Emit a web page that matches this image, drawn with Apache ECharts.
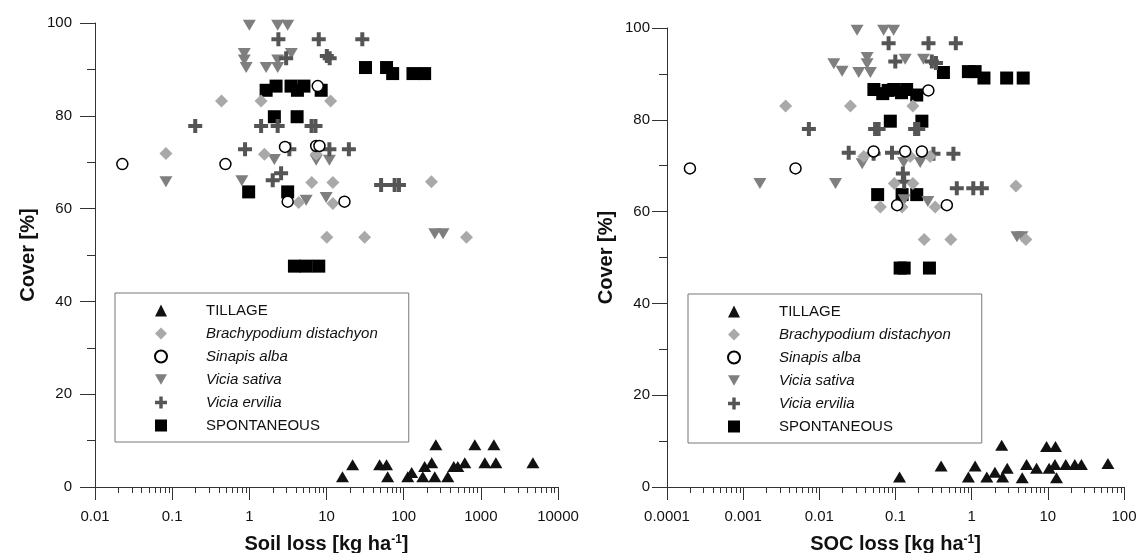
<!DOCTYPE html>
<html>
<head>
<meta charset="utf-8">
<title>Cover vs soil loss and SOC loss</title>
<script src="https://cdn.jsdelivr.net/npm/echarts@6/dist/echarts.min.js"></script>
<style>
  html, body { margin: 0; padding: 0; background: #fff; }
  #chart { width: 1142px; height: 553px; }
</style>
</head>
<body>
<div id="chart"></div>
<script>
// axis ticks
const coverTicks = [0, 20, 40, 60, 80, 100];
const soilTicks = [0.01, 0.1, 1, 10, 100, 1000, 10000];
const socTicks = [0.0001, 0.001, 0.01, 0.1, 1, 10, 100];

// legend order
const seriesNames = ['TILLAGE', 'Brachypodium distachyon', 'Sinapis alba', 'Vicia sativa', 'Vicia ervilia', 'SPONTANEOUS'];

// left panel: [soil loss, cover]
const soilTillage = [[16.1, 2.2], [21.8, 4.8], [48.8, 4.8], [60, 4.8], [62, 2.2], [113, 2.2], [127, 3.1], [177, 2.2], [187, 4.4], [231, 5.2], [253, 2.2], [261, 9.1], [373, 2.2], [446, 4.4], [503, 4.4], [620, 5.2], [836, 9.1], [1127, 5.2], [1476, 9.1], [1567, 5.2], [4732, 5.2]];
const soilBrachy = [[0.083, 71.9], [0.436, 83.2], [1.42, 83.2], [11.3, 83.2], [1.57, 71.7], [7.35, 71.7], [6.44, 65.6], [12.1, 65.6], [4.36, 61.3], [12.1, 61.1], [10.1, 53.8], [31.2, 53.8], [229, 65.8], [652, 53.8]];
const soilSinapis = [[0.0226, 69.6], [0.49, 69.6], [2.9, 73.3], [7.35, 73.5], [8.1, 73.5], [7.7, 86.4], [3.14, 61.5], [17.1, 61.5]];
const soilSativa = [[1.0, 99.5], [2.33, 99.5], [3.14, 99.5], [0.86, 93.4], [0.86, 92.0], [0.91, 90.4], [1.65, 90.4], [2.33, 92.0], [2.33, 90.4], [3.5, 93.4], [0.083, 65.8], [0.8, 66.0], [2.11, 70.6], [7.35, 70.4], [10.9, 70.4], [5.45, 61.8], [9.9, 62.4], [253, 54.6], [324, 54.6]];
const soilErvilia = [[2.38, 96.5], [7.94, 96.5], [29.1, 96.5], [3.0, 92.4], [10.1, 92.9], [11, 92.4], [0.199, 77.8], [1.42, 77.8], [2.33, 77.8], [6.4, 77.8], [7.2, 77.8], [0.88, 72.8], [3.3, 72.8], [10.9, 72.8], [19.5, 72.8], [2.01, 66.1], [2.58, 67.6], [51, 65.1], [76.4, 65.1], [86.9, 65.1]];
const soilSpont = [[1.65, 85.5], [2.22, 86.4], [3.47, 86.4], [4.2, 85.5], [5.1, 86.4], [8.53, 85.5], [2.11, 79.8], [4.16, 79.8], [32, 90.4], [60, 90.4], [72, 89.1], [132, 89.1], [187, 89.1], [0.98, 63.6], [3.14, 63.6], [3.84, 47.6], [5.45, 47.6], [7.94, 47.6]];

// right panel: [SOC loss, cover]
const socTillage = [[0.113, 2.2], [0.397, 4.6], [0.906, 2.2], [1.11, 4.6], [1.58, 2.2], [2.02, 3.2], [2.48, 9.1], [2.55, 2.2], [2.93, 4.1], [4.61, 2.0], [5.26, 4.9], [7.11, 4.1], [9.62, 8.8], [12.6, 8.8], [10.4, 4.1], [12.4, 4.9], [13.0, 2.0], [17.2, 4.9], [22.6, 4.9], [27.6, 4.9], [61.5, 5.1]];
const socBrachy = [[0.00361, 83.0], [0.0256, 83.0], [0.169, 83.0], [0.0383, 72.0], [0.156, 72.0], [0.285, 72.0], [0.0964, 66.1], [0.169, 66.1], [0.0633, 61.0], [0.122, 61.0], [0.332, 61.0], [0.238, 53.9], [0.532, 53.9], [3.81, 65.6], [5.15, 53.9]];
const socSinapis = [[0.0002, 69.4], [0.00487, 69.4], [0.0516, 73.1], [0.134, 73.1], [0.222, 73.1], [0.105, 61.4], [0.472, 61.4], [0.27, 86.4]];
const socSativa = [[0.0313, 99.5], [0.0698, 99.5], [0.0944, 99.5], [0.0424, 93.6], [0.0424, 92.2], [0.0329, 90.3], [0.0468, 90.3], [0.0155, 92.2], [0.0199, 90.6], [0.134, 93.2], [0.233, 93.2], [0.0365, 70.4], [0.128, 70.7], [0.211, 70.7], [0.00166, 66.1], [0.0163, 66.1], [0.13, 62.6], [0.266, 62.2], [3.93, 54.5], [4.57, 54.5]];
const socErvilia = [[0.0812, 96.7], [0.271, 96.7], [0.619, 96.7], [0.0994, 92.7], [0.3, 92.7], [0.34, 92.4], [0.00729, 78.0], [0.054, 78.0], [0.06, 78.0], [0.181, 78.0], [0.199, 78.0], [0.0243, 72.8], [0.0516, 72.6], [0.09, 72.8], [0.315, 72.6], [0.576, 72.6], [0.125, 68.3], [0.13, 66.5], [0.638, 65.1], [1.05, 65.1], [1.36, 65.1]];
const socSpont = [[0.426, 90.3], [0.906, 90.5], [1.11, 90.5], [1.45, 89.1], [2.88, 89.1], [4.75, 89.1], [0.052, 86.6], [0.068, 85.7], [0.08, 86.4], [0.095, 86.6], [0.12, 85.9], [0.14, 86.6], [0.19, 85.4], [0.0855, 79.7], [0.222, 79.7], [0.0583, 63.7], [0.122, 63.7], [0.19, 63.7], [0.115, 47.7], [0.13, 47.7], [0.279, 47.7]];

const FONT = 'Liberation Sans, Arial, Helvetica, sans-serif';
const AXIS = '#333';

// marker look for each treatment
const markers = {
  'TILLAGE': { symbol: 'triangle', symbolSize: [13, 11], itemStyle: { color: '#111' } },
  'Brachypodium distachyon': { symbol: 'diamond', symbolSize: 13, itemStyle: { color: '#a9a9a9' } },
  'Sinapis alba': { symbol: 'circle', symbolSize: 11, itemStyle: { color: '#fff', borderColor: '#000', borderWidth: 1.5 } },
  'Vicia sativa': { symbol: 'path://M0,0L14,0L7,12Z', symbolSize: [13, 11], itemStyle: { color: '#7f7f7f' } },
  'Vicia ervilia': { symbol: 'path://M5,0H9V5H14V9H9V14H5V9H0V5H5Z', symbolSize: 14, itemStyle: { color: '#555' } },
  'SPONTANEOUS': { symbol: 'rect', symbolSize: 13, itemStyle: { color: '#000' } }
};

function scatter(name, data, idx) {
  const s = Object.assign({
    type: 'scatter', name: name, data: data,
    xAxisIndex: idx, yAxisIndex: idx,
    emphasis: { disabled: true }, animation: false
  }, markers[name]);
  s.itemStyle = Object.assign({ opacity: 1 }, markers[name].itemStyle);
  return s;
}

// log axis minor ticks (2..9 per decade), drawn through the axis scale
function minorTicks(ticks, idx) {
  const vals = [];
  for (let i = 0; i < ticks.length - 1; i++) {
    for (let m = 2; m <= 9; m++) vals.push([ticks[i] * m, 0]);
  }
  return {
    type: 'custom', name: 'minor', xAxisIndex: idx, yAxisIndex: idx,
    data: vals, silent: true, clip: false, animation: false,
    renderItem: function (params, api) {
      const p = api.coord([api.value(0), 0]);
      const x = Math.round(p[0]) + 0.5;
      return { type: 'line', shape: { x1: x, y1: p[1], x2: x, y2: p[1] + 6 }, style: { stroke: AXIS, lineWidth: 1 } };
    }
  };
}

const fmtLog = v => String(parseFloat(Number(v).toPrecision(6)));

function xAxis(idx, ticks, title) {
  return {
    type: 'log', logBase: 10, gridIndex: idx,
    min: ticks[0], max: ticks[ticks.length - 1],
    axisLine: { show: true, onZero: false, lineStyle: { color: AXIS, width: 1 } },
    axisTick: { show: true, length: 13, lineStyle: { color: AXIS } },
    minorTick: { show: false }, splitLine: { show: false }, minorSplitLine: { show: false },
    axisLabel: { fontSize: 15, color: '#111', margin: 22, fontFamily: FONT, formatter: fmtLog },
    name: title + ' [kg ha{sup|-1}]', nameLocation: 'middle', nameGap: 47,
    nameTextStyle: {
      fontSize: 20, fontWeight: 'bold', color: '#111', fontFamily: FONT,
      rich: { sup: { fontSize: 12, fontWeight: 'bold', color: '#111', fontFamily: FONT, verticalAlign: 'top' } }
    }
  };
}

function yAxis(idx, labelMargin, gap) {
  return {
    type: 'value', gridIndex: idx,
    min: coverTicks[0], max: coverTicks[coverTicks.length - 1], interval: coverTicks[1] - coverTicks[0],
    axisLine: { show: true, onZero: false, lineStyle: { color: AXIS, width: 1 } },
    axisTick: { show: true, length: 15, lineStyle: { color: AXIS } },
    minorTick: { show: true, splitNumber: 2, length: 8, lineStyle: { color: AXIS } },
    splitLine: { show: false },
    axisLabel: { fontSize: 15, color: '#111', margin: labelMargin, fontFamily: FONT },
    name: 'Cover [%]', nameLocation: 'middle', nameGap: gap,
    nameTextStyle: { fontSize: 20, fontWeight: 'bold', color: '#111', fontFamily: FONT }
  };
}

function legend(left, top) {
  return {
    orient: 'vertical', left: left, top: top,
    itemWidth: 12, itemHeight: 12, itemGap: 8,
    padding: [10, 31, 9, 39],
    borderColor: '#777', borderWidth: 1,
    selectedMode: false,
    textStyle: { fontSize: 15, color: '#111', fontFamily: FONT, padding: [0, 0, 0, 34] },
    data: seriesNames.map(n => ({
      name: n,
      textStyle: { fontStyle: (n === n.toUpperCase()) ? 'normal' : 'italic' }
    }))
  };
}

const drawOrder = ['SPONTANEOUS', 'Vicia sativa', 'Vicia ervilia', 'TILLAGE', 'Brachypodium distachyon', 'Sinapis alba'];
const soilData = {
  'TILLAGE': soilTillage, 'Brachypodium distachyon': soilBrachy, 'Sinapis alba': soilSinapis,
  'Vicia sativa': soilSativa, 'Vicia ervilia': soilErvilia, 'SPONTANEOUS': soilSpont
};
const socData = {
  'TILLAGE': socTillage, 'Brachypodium distachyon': socBrachy, 'Sinapis alba': socSinapis,
  'Vicia sativa': socSativa, 'Vicia ervilia': socErvilia, 'SPONTANEOUS': socSpont
};

const series = [minorTicks(soilTicks, 0), minorTicks(socTicks, 1)];
drawOrder.forEach(n => series.push(scatter(n, soilData[n], 0)));
drawOrder.forEach(n => series.push(scatter(n, socData[n], 1)));

const chart = echarts.init(document.getElementById('chart'), null, { renderer: 'canvas' });
chart.setOption({
  animation: false,
  backgroundColor: '#fff',
  textStyle: { fontFamily: FONT },
  grid: [
    { left: 95, right: 584, top: 23, bottom: 66, outerBoundsMode: 'none' },
    { left: 667, right: 18, top: 28, bottom: 66, outerBoundsMode: 'none' }
  ],
  xAxis: [xAxis(0, soilTicks, 'Soil loss'), xAxis(1, socTicks, 'SOC loss')],
  yAxis: [yAxis(0, 23, 57), yAxis(1, 17, 51)],
  legend: [legend(115, 293), legend(688, 294)],
  series: series
});
</script>
</body>
</html>
